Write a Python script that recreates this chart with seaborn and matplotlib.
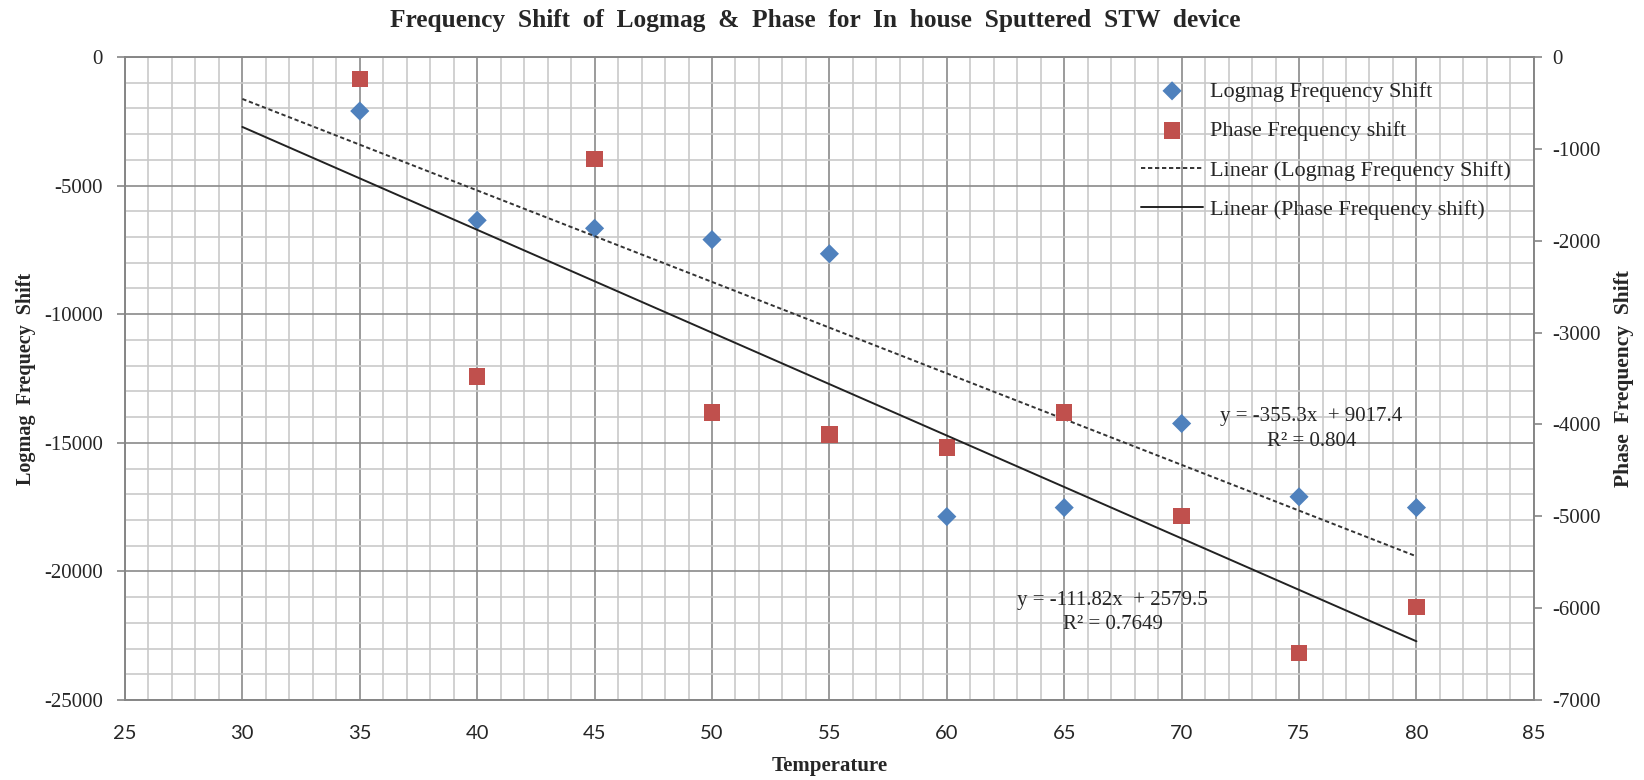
import numpy as np
import matplotlib

matplotlib.use("Agg")
import matplotlib.pyplot as plt
import seaborn as sns
from matplotlib.ticker import MultipleLocator

# data
temperature = [35, 40, 45, 50, 55, 60, 65, 70, 75, 80]
logmag_shift = [-2100, -6350, -6660, -7100, -7650, -17870, -17520, -14250, -17100, -17520]
phase_shift = [-240, -3480, -1112, -3870, -4110, -4250, -3870, -5000, -6490, -5990]

trend_start = 30  # trendlines are extended back to 30
logmag_eq = "y = -355.3x  + 9017.4\nR² = 0.804"
phase_eq = "y = -111.82x  + 2579.5\nR² = 0.7649"
legend_labels = ["Logmag Frequency Shift", "Phase Frequency shift",
                 "Linear (Logmag Frequency Shift)", "Linear (Phase Frequency shift)"]

BLUE = "#4F81BD"
RED = "#C0504D"
SERIF = ["Liberation Serif", "DejaVu Serif"]

sns.set_style("white")
plt.rcParams["font.family"] = SERIF
plt.rcParams["axes.unicode_minus"] = False

fig = plt.figure(figsize=(16.44, 7.8), dpi=100)
ax = fig.add_axes([0.076, 0.1026, 0.857, 0.8243])
ax2 = ax.twinx()

# scatter points
sns.scatterplot(x=temperature, y=logmag_shift, ax=ax, marker="D", s=95, color=BLUE,
                edgecolor="none", legend=False, zorder=3)
sns.scatterplot(x=temperature, y=phase_shift, ax=ax2, marker="s", s=140, color=RED,
                edgecolor="none", legend=False, zorder=3)

# linear trendlines (fitted from the points)
tx = np.array([trend_start, max(temperature)])
m1, b1 = np.polyfit(temperature, logmag_shift, 1)
m2, b2 = np.polyfit(temperature, phase_shift, 1)
sns.lineplot(x=tx, y=m1 * tx + b1, ax=ax, color="#333333", lw=1.4,
             linestyle=(0, (2.2, 1.4)), zorder=4)
sns.lineplot(x=tx, y=m2 * tx + b2, ax=ax2, color="#222222", lw=1.4, zorder=4)

# axes limits / grid
ax.set_xlim(25, 85)
ax.set_ylim(-25000, 0)
ax2.set_ylim(-7000, 0)
ax.xaxis.set_major_locator(MultipleLocator(5))
ax.xaxis.set_minor_locator(MultipleLocator(1))
ax.yaxis.set_major_locator(MultipleLocator(5000))
ax.yaxis.set_minor_locator(MultipleLocator(1000))
ax2.yaxis.set_major_locator(MultipleLocator(1000))
ax.grid(which="minor", color="#c9c9c9", lw=1.2)
ax.grid(which="major", color="#8a8a8a", lw=1.2)
ax.set_axisbelow(True)
ax2.grid(False)

for a in (ax, ax2):
    for sp in a.spines.values():
        sp.set_color("#868686")
        sp.set_linewidth(1.2)

ax.tick_params(axis="x", which="both", length=0, pad=18, labelsize=14.5)
for lab in ax.get_xticklabels():
    lab.set_fontfamily(["Lato", "DejaVu Sans"])
ax.tick_params(axis="y", which="major", direction="out", length=6, width=1.2,
               color="#868686", left=True, labelsize=15, pad=10)
ax.tick_params(axis="y", which="minor", length=0)
ax2.tick_params(axis="y", which="major", direction="out", length=6, width=1.2,
                color="#868686", right=True, labelsize=15, pad=7)

ax.set_xlabel("Temperature", fontsize=15, fontweight="bold", labelpad=10)
ax.set_ylabel("Logmag  Frequecy  Shift", fontsize=14.5, fontweight="bold", labelpad=6)
ax2.set_ylabel("Phase  Frequency  Shift", fontsize=15.5, fontweight="bold", labelpad=10)
fig.suptitle("Frequency  Shift  of  Logmag  &  Phase  for  In  house  Sputtered  STW  device",
             fontsize=18.3, fontweight="bold", x=0.496, y=0.988)

# trendline equations
ax.text(0.842, 0.421, logmag_eq, transform=ax.transAxes, ha="center", va="center",
        fontsize=15, linespacing=1.4)
ax.text(0.701, 0.136, phase_eq, transform=ax.transAxes, ha="center", va="center",
        fontsize=15, linespacing=1.4)

# legend
handles = [ax.collections[0], ax2.collections[0], ax.get_lines()[0], ax2.get_lines()[0]]
fig.legend(handles, legend_labels,
           loc="upper left", bbox_to_anchor=(0.694, 0.896), frameon=False,
           fontsize=16, handlelength=2.8, handletextpad=0.3, labelspacing=0.85,
           borderpad=0, borderaxespad=0)

fig.savefig("out.png", dpi=100)
